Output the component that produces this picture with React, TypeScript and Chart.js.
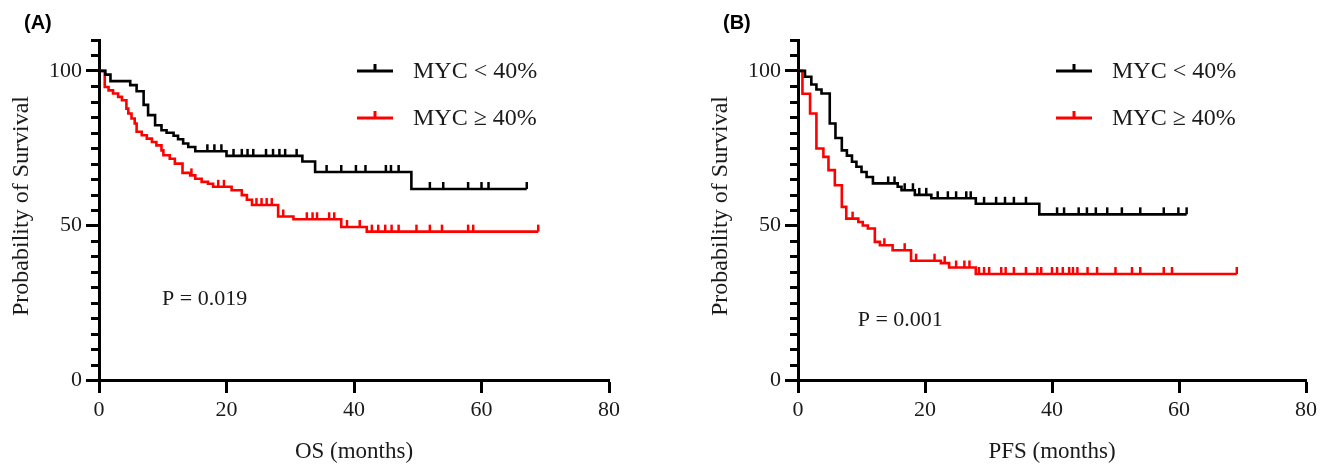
import React, { useEffect, useRef } from "react";
import { Chart, registerables } from "chart.js";
Chart.register(...registerables);

// ---------- data ----------
const X_TICKS = [0, 20, 40, 60, 80];
const Y_TICKS = [0, 50, 100];
const Y_MINOR_STEP = 5;
const SERIES_LABELS = ["MYC < 40%", "MYC \u2265 40%"];

// Panel A: OS
const OS_LOW_T = [0, 1.0, 1.8, 4.9, 5.9, 7.0, 7.7, 8.8, 9.8, 10.6, 11.7, 12.4, 13.2, 14.0, 15.1, 20.0, 31.9, 33.9, 49.0, 67.1];
const OS_LOW_S = [100, 98.8, 96.7, 95.4, 93.4, 89.0, 85.7, 82.4, 80.8, 80.0, 79.0, 77.9, 76.5, 75.4, 74.0, 72.5, 70.7, 67.3, 61.8, 61.8];
const OS_LOW_CENSOR = [17.0, 18.1, 19.2, 21.1, 22.4, 23.3, 24.2, 26.2, 27.3, 28.3, 29.2, 31.0, 35.7, 38.0, 40.3, 41.8, 45.0, 45.8, 47.0, 51.9, 54.0, 57.9, 60.0, 61.1, 67.1];

const OS_HIGH_T = [0, 0.9, 1.5, 2.2, 3.0, 3.6, 4.3, 4.6, 5.1, 5.6, 5.9, 6.7, 7.5, 8.3, 9.0, 9.8, 10.1, 11.1, 11.9, 13.1, 14.3, 15.1, 16.1, 17.1, 17.9, 20.8, 22.4, 23.2, 24.0, 28.1, 30.5, 38.0, 42.0, 68.9];
const OS_HIGH_S = [100, 94.8, 93.7, 92.7, 91.6, 90.5, 87.8, 86.2, 84.6, 83.0, 80.3, 79.2, 78.1, 77.0, 75.9, 74.3, 72.7, 71.6, 70.0, 67.0, 66.2, 65.1, 64.1, 63.5, 62.5, 61.4, 59.8, 58.3, 56.6, 52.9, 52.0, 49.5, 48.0, 48.0];
const OS_HIGH_CENSOR = [14.5, 18.7, 19.6, 24.7, 25.5, 26.3, 27.1, 28.9, 32.6, 33.5, 34.2, 36.1, 36.9, 38.9, 40.9, 42.8, 43.8, 44.9, 45.9, 47.0, 49.8, 51.9, 53.8, 57.9, 58.7, 68.9];

// Panel B: PFS
const PFS_LOW_T = [0, 1.1, 2.1, 2.9, 3.7, 5.0, 5.9, 6.9, 7.7, 8.5, 9.2, 10.0, 10.8, 11.8, 15.7, 16.3, 18.4, 21.0, 28.0, 38.0, 61.2];
const PFS_LOW_S = [100, 98.1, 95.6, 94.0, 92.7, 83.0, 78.3, 74.3, 72.6, 70.6, 69.0, 67.3, 65.7, 63.6, 62.5, 61.4, 59.9, 58.8, 57.0, 53.6, 53.6];
const PFS_LOW_CENSOR = [14.2, 15.2, 16.8, 18.1, 19.1, 20.2, 22.0, 23.6, 24.9, 26.5, 27.2, 29.3, 31.2, 32.6, 34.0, 35.9, 40.8, 41.9, 44.2, 45.5, 46.9, 48.7, 51.0, 53.9, 57.6, 59.9, 61.2];

const PFS_HIGH_T = [0, 0.7, 1.9, 2.9, 4.0, 4.8, 5.8, 6.9, 7.6, 9.5, 10.2, 11.0, 12.1, 12.9, 14.9, 17.8, 22.5, 23.8, 28.0, 69.1];
const PFS_HIGH_S = [100, 92.6, 86.2, 74.9, 72.2, 67.9, 63.0, 56.0, 52.2, 51.1, 50.0, 49.0, 44.7, 43.6, 42.0, 38.6, 37.8, 36.4, 34.3, 34.3];
const PFS_HIGH_CENSOR = [8.6, 13.6, 16.8, 18.6, 21.5, 23.1, 24.9, 26.2, 27.0, 28.5, 29.3, 30.1, 32.0, 32.7, 34.0, 35.9, 37.7, 38.3, 40.0, 40.8, 41.7, 42.7, 43.3, 44.0, 45.6, 47.1, 50.0, 52.6, 53.9, 57.6, 58.9, 69.1];

const COLORS = ["#000000", "#ff0000"];
const SERIF = "'Liberation Serif', 'Times New Roman', serif";

function stepValue(T: number[], S: number[], t: number) {
  let v = S[0];
  for (let i = 0; i < T.length; i++) if (T[i] <= t) v = S[i];
  return v;
}

const decorPlugin = {
  id: "decor",
  afterDatasetsDraw(chart: any) {
    const ctx = chart.ctx;
    const xs = chart.scales.x;
    const ys = chart.scales.y;
    ctx.save();
    ctx.lineCap = "butt";
    chart.data.datasets.forEach((ds: any) => {
      ctx.strokeStyle = ds.borderColor;
      ctx.lineWidth = 2.5;
      (ds.censor as number[]).forEach((t) => {
        const v = stepValue(ds.times, ds.surv, t);
        const px = xs.getPixelForValue(t);
        const py = ys.getPixelForValue(v);
        ctx.beginPath();
        ctx.moveTo(px, py);
        ctx.lineTo(px, py - 7);
        ctx.stroke();
      });
    });
    ctx.restore();
  },
  afterDraw(chart: any, _a: any, opts: any) {
    const ctx = chart.ctx;
    const { left, right, top, bottom } = chart.chartArea;
    const xs = chart.scales.x;
    const ys = chart.scales.y;
    ctx.save();
    // minor y ticks
    ctx.strokeStyle = "#000";
    ctx.lineWidth = 3;
    for (let v = 0; v <= ys.max; v += Y_MINOR_STEP) {
      if (Y_TICKS.includes(v)) continue;
      const y = Math.round(ys.getPixelForValue(v)) + 0.5;
      ctx.beginPath();
      ctx.moveTo(left - 8, y);
      ctx.lineTo(left, y);
      ctx.stroke();
    }
    // panel label
    ctx.fillStyle = "#000";
    ctx.font = "bold 20px 'Liberation Sans', Arial, sans-serif";
    ctx.textBaseline = "middle";
    ctx.textAlign = "left";
    ctx.fillText(opts.panel, 24, 23);
    // titles
    ctx.fillStyle = "#1a1a1a";
    ctx.font = `23px ${SERIF}`;
    ctx.textAlign = "center";
    ctx.fillText(opts.xTitle, (left + right) / 2, 452);
    ctx.save();
    ctx.font = `24px ${SERIF}`;
    ctx.translate(22, (top + bottom) / 2 - 4);
    ctx.rotate(-Math.PI / 2);
    ctx.fillText("Probability of Survival", 0, 0);
    ctx.restore();
    // p value
    ctx.textAlign = "left";
    ctx.font = `22px ${SERIF}`;
    ctx.fillText(opts.pText, xs.getPixelForValue(opts.pAt[0]), ys.getPixelForValue(opts.pAt[1]));
    // legend
    const legY = [71, 118];
    chart.data.datasets.forEach((ds: any, i: number) => {
      const y = legY[i];
      const x0 = left + 258;
      const x1 = left + 294;
      ctx.strokeStyle = ds.borderColor;
      ctx.lineWidth = 3;
      ctx.beginPath();
      ctx.moveTo(x0, y);
      ctx.lineTo(x1, y);
      ctx.moveTo((x0 + x1) / 2, y);
      ctx.lineTo((x0 + x1) / 2, y - 7);
      ctx.stroke();
      ctx.fillStyle = "#1a1a1a";
      ctx.font = `24px ${SERIF}`;
      ctx.fillText(ds.label, left + 314, y + 1);
    });
    ctx.restore();
  },
};

function makeConfig(
  sets: { T: number[]; S: number[]; C: number[] }[],
  opts: { panel: string; xTitle: string; pText: string; pAt: number[]; padRight: number }
): any {
  return {
    type: "line",
    data: {
      datasets: sets.map((s, i) => ({
        label: SERIES_LABELS[i],
        data: s.T.map((t, j) => ({ x: t, y: s.S[j] })),
        times: s.T,
        surv: s.S,
        censor: s.C,
        borderColor: COLORS[i],
        backgroundColor: COLORS[i],
        borderWidth: 2.6,
        stepped: true,
        pointRadius: 0,
        fill: false,
      })),
    },
    options: {
      responsive: false,
      animation: false,
      layout: { padding: { left: 0, top: 40, right: opts.padRight, bottom: 0 } },
      plugins: {
        legend: { display: false },
        tooltip: { enabled: false },
        decor: opts,
      },
      scales: {
        x: {
          type: "linear",
          min: 0,
          max: 80,
          afterBuildTicks: (s: any) => {
            s.ticks = X_TICKS.map((v) => ({ value: v }));
          },
          afterFit: (s: any) => {
            s.height = 84;
          },
          ticks: {
            font: { family: SERIF, size: 22 },
            color: "#1a1a1a",
            padding: 4,
            maxRotation: 0,
          },
          grid: { drawOnChartArea: false, drawTicks: true, tickLength: 13, tickWidth: 3, tickColor: "#000", color: "#000" },
          border: { display: true, color: "#000", width: 3 },
        },
        y: {
          type: "linear",
          min: 0,
          max: 110,
          afterBuildTicks: (s: any) => {
            s.ticks = Y_TICKS.map((v) => ({ value: v }));
          },
          afterFit: (s: any) => {
            s.width = 99;
          },
          ticks: {
            font: { family: SERIF, size: 22 },
            color: "#1a1a1a",
            padding: 4,
          },
          grid: { drawOnChartArea: false, drawTicks: true, tickLength: 13, tickWidth: 3, tickColor: "#000", color: "#000" },
          border: { display: true, color: "#000", width: 3 },
        },
      },
    },
    plugins: [decorPlugin],
  };
}

export default function App() {
  const refA = useRef<HTMLCanvasElement>(null);
  const refB = useRef<HTMLCanvasElement>(null);
  useEffect(() => {
    const a = new Chart(
      refA.current as HTMLCanvasElement,
      makeConfig(
        [
          { T: OS_LOW_T, S: OS_LOW_S, C: OS_LOW_CENSOR },
          { T: OS_HIGH_T, S: OS_HIGH_S, C: OS_HIGH_CENSOR },
        ],
        { panel: "(A)", xTitle: "OS (months)", pText: "P = 0.019", pAt: [9.9, 26], padRight: 51 }
      )
    );
    const b = new Chart(
      refB.current as HTMLCanvasElement,
      makeConfig(
        [
          { T: PFS_LOW_T, S: PFS_LOW_S, C: PFS_LOW_CENSOR },
          { T: PFS_HIGH_T, S: PFS_HIGH_S, C: PFS_HIGH_CENSOR },
        ],
        { panel: "(B)", xTitle: "PFS (months)", pText: "P = 0.001", pAt: [9.4, 19.5], padRight: 13 }
      )
    );
    return () => {
      a.destroy();
      b.destroy();
    };
  }, []);
  return (
    <div style={{ position: "fixed", left: 0, top: 0, width: 1321, height: 464, background: "#fff" }}>
      <canvas ref={refA} width={660} height={464} style={{ position: "absolute", left: 0, top: 0, display: "block" }} />
      <canvas ref={refB} width={622} height={464} style={{ position: "absolute", left: 699, top: 0, display: "block" }} />
    </div>
  );
}
